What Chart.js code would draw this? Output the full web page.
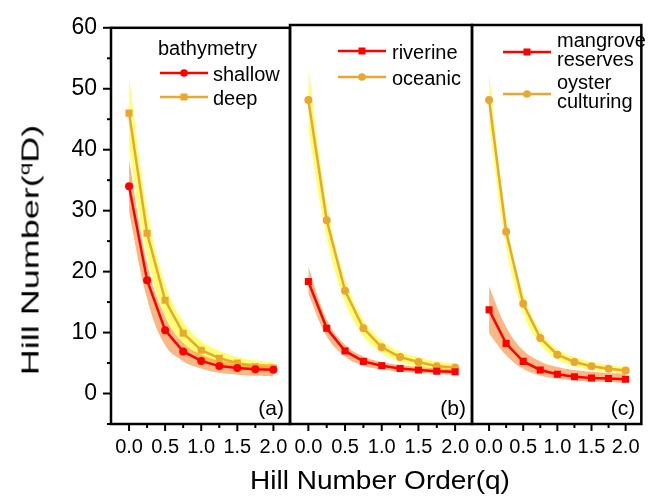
<!DOCTYPE html>
<html lang="en">
<head>
  <meta charset="UTF-8">
  <title>Hill Numbers</title>
  <script src="https://cdn.jsdelivr.net/npm/chart.js"></script>
  <style>
    body { margin: 0; background: #fff; font-family: "Liberation Sans", Arial, sans-serif; }
    #wrap { position: relative; width: 651px; height: 496px; overflow: hidden; }
    #wrap canvas { position: absolute; left: 0; top: 0; }
    .ytitle { position: absolute; left: 30px; top: 250px; font-size: 24px; line-height: 25px; white-space: nowrap;
              transform: translate(-50%, -50%) rotate(-90deg) scaleX(1.5); }
    .ytitle sup { font-size: 15px; vertical-align: 9px; line-height: 0; }
    .xtitle { position: absolute; left: 380px; top: 467px; font-size: 25px; line-height: 26px; white-space: nowrap;
              transform: translateX(-50%) scaleX(1.12); }
  </style>
</head>
<body>
<div id="wrap">
  <canvas id="panelA" width="651" height="496"></canvas>
  <canvas id="panelB" width="651" height="496"></canvas>
  <canvas id="panelC" width="651" height="496"></canvas>
  <div class="ytitle">Hill Number(<sup>q</sup>D)</div>
  <div class="xtitle">Hill Number Order(q)</div>
</div>

<script>
  // Hill number order q
  const qOrder = [0, 0.25, 0.5, 0.75, 1, 1.25, 1.5, 1.75, 2];

  // (a) bathymetry
  const shallow   = [34.0, 18.6, 10.4, 6.9, 5.35, 4.5, 4.2, 4.0, 3.9];
  const shallowHi = [38.4, 21.4, 12.6, 8.3, 6.4, 5.4, 5.1, 4.9, 4.8];
  const shallowLo = [29.8, 15.6, 7.9, 5.3, 4.1, 3.4, 3.1, 2.9, 2.8];
  const deep      = [46.0, 26.3, 15.3, 9.9, 7.1, 5.8, 5.0, 4.4, 4.2];
  const deepHi    = [51.8, 30.2, 17.9, 11.8, 8.6, 7.0, 6.0, 5.4, 5.1];
  const deepLo    = [40.2, 22.6, 12.8, 8.2, 5.8, 4.7, 4.1, 3.6, 3.4];

  // (b) riverine / oceanic
  const riverine   = [18.2, 10.6, 6.9, 5.2, 4.5, 4.05, 3.8, 3.6, 3.5];
  const riverineHi = [20.6, 12.0, 7.9, 6.0, 5.1, 4.6, 4.3, 4.1, 4.0];
  const riverineLo = [16.2, 9.3, 6.0, 4.5, 3.9, 3.5, 3.3, 3.1, 3.0];
  const oceanic    = [47.8, 28.2, 16.7, 10.6, 7.5, 5.9, 5.1, 4.4, 4.2];
  const oceanicHi  = [53.0, 31.0, 18.6, 12.0, 8.6, 6.8, 5.9, 5.2, 4.9];
  const oceanicLo  = [42.8, 25.5, 14.9, 9.3, 6.6, 5.1, 4.4, 3.8, 3.6];

  // (c) mangrove reserves / oyster culturing
  const mangrove   = [13.6, 8.1, 5.2, 3.8, 3.1, 2.7, 2.5, 2.4, 2.3];
  const mangroveHi = [17.4, 10.8, 7.0, 5.2, 4.3, 3.8, 3.5, 3.3, 3.2];
  const mangroveLo = [9.8, 6.2, 4.0, 2.9, 2.4, 2.1, 1.9, 1.8, 1.7];
  const oyster     = [47.8, 26.3, 14.6, 9.0, 6.3, 5.1, 4.4, 4.0, 3.7];
  const oysterHi   = [52.0, 28.8, 16.3, 10.2, 7.2, 5.9, 5.1, 4.6, 4.3];
  const oysterLo   = [43.8, 24.0, 13.1, 8.0, 5.5, 4.4, 3.8, 3.5, 3.2];

  // axis ticks
  const yMajorTicks = [0, 10, 20, 30, 40, 50, 60];
  const xMajorTicks = [0, 0.5, 1, 1.5, 2];

  const FONT = '"Liberation Sans", Arial, sans-serif';
  const RED = '#FF0000';
  const GOLD = '#E8A830';
  const ORANGE_BAND = 'rgba(243,135,50,0.6)';
  const YELLOW_BAND = 'rgba(255,255,0,0.55)';

  Chart.defaults.font.family = FONT;
  Chart.defaults.color = '#000';

  const pts = arr => arr.map((v, i) => ({ x: qOrder[i], y: v }));
  const near = (a, b) => Math.abs(a - b) < 1e-6;

  function lineSet(label, arr, color, style, order) {
    return {
      label, data: pts(arr), borderColor: color, backgroundColor: color,
      borderWidth: 2.5, pointStyle: style, pointRadius: style === 'rect' ? 5 : 4,
      pointBorderWidth: 0, fill: false, tension: 0, order
    };
  }
  function bandSet(arr, color, order, fill) {
    return {
      label: '', data: pts(arr), borderWidth: 0, borderColor: 'rgba(0,0,0,0)',
      backgroundColor: color, pointRadius: 0, fill, tension: 0.4, order
    };
  }

  // frame, tick marks, panel tag and in-plot legend
  const panelDeco = {
    id: 'panelDeco',
    afterDatasetsDraw(chart, args, o) {
      const { ctx, chartArea: a, scales: { x, y } } = chart;
      ctx.save();
      ctx.strokeStyle = '#000';
      ctx.lineCap = 'butt';

      ctx.lineWidth = 2;
      x.ticks.forEach(t => {
        const k = t.value / 0.25;
        if (!near(k, Math.round(k))) return;
        const px = x.getPixelForValue(t.value);
        if (px < a.left + 3 || px > a.right - 3) return;
        const len = xMajorTicks.some(m => near(m, t.value)) ? 7 : 4;
        ctx.beginPath(); ctx.moveTo(px, a.bottom); ctx.lineTo(px, a.bottom + len); ctx.stroke();
      });
      if (o.yTicks) {
        y.ticks.forEach(t => {
          const py = y.getPixelForValue(t.value);
          const len = yMajorTicks.includes(t.value) ? 8 : 4;
          ctx.beginPath(); ctx.moveTo(a.left, py); ctx.lineTo(a.left - len, py); ctx.stroke();
        });
      }

      ctx.lineWidth = 2.5;
      ctx.strokeRect(a.left, a.top, a.right - a.left, a.bottom - a.top);

      ctx.fillStyle = '#000';
      ctx.font = '21px ' + FONT;
      ctx.textAlign = 'right';
      ctx.textBaseline = 'alphabetic';
      ctx.fillText(o.tag, a.right - 6, a.bottom - 9);

      // legend
      const lg = o.legend;
      ctx.font = '20px ' + FONT;
      ctx.textAlign = 'left';
      if (lg.title) ctx.fillText(lg.title, lg.titleX, lg.titleY);
      lg.rows.forEach(r => {
        const ds = chart.data.datasets[r.ds];
        const x0 = lg.lineX, x1 = lg.lineX + 48, mid = (x0 + x1) / 2;
        ctx.strokeStyle = ds.borderColor;
        ctx.fillStyle = ds.borderColor;
        ctx.lineWidth = 2.5;
        ctx.beginPath(); ctx.moveTo(x0, r.y); ctx.lineTo(x1, r.y); ctx.stroke();
        if (ds.pointStyle === 'rect') {
          ctx.fillRect(mid - 3.5, r.y - 3.5, 7, 7);
        } else {
          ctx.beginPath(); ctx.arc(mid, r.y, 3.8, 0, Math.PI * 2); ctx.fill();
        }
        ctx.fillStyle = '#000';
        const lines = ds.label.split('\n');
        if (lines.length === 1) {
          ctx.fillText(lines[0], lg.textX, r.y + 7.5);
        } else {
          ctx.fillText(lines[0], lg.textX, r.y - 5);
          ctx.fillText(lines[1], lg.textX, r.y + 14);
        }
      });
      ctx.restore();
    }
  };

  function makePanel(id, cfg) {
    new Chart(document.getElementById(id), {
      type: 'line',
      data: { datasets: cfg.datasets },
      options: {
        responsive: false,
        animation: false,
        events: [],
        layout: { padding: { left: cfg.left, right: cfg.right, top: 25, bottom: 32 } },
        scales: {
          x: {
            type: 'linear', min: -0.25, max: 2.23,
            grid: { display: false, drawTicks: false },
            border: { display: false },
            afterFit: s => { s.height = 40; },
            ticks: {
              stepSize: 0.25, autoSkip: false, includeBounds: false, maxRotation: 0, padding: 11,
              font: { size: 20 },
              callback: v => xMajorTicks.some(m => near(m, v)) ? v.toFixed(1) : ''
            }
          },
          y: {
            min: -5, max: 60,
            display: cfg.showY,
            grid: { display: false, drawTicks: false },
            border: { display: false },
            afterFit: s => { s.width = cfg.showY ? 60 : 0; },
            ticks: {
              stepSize: 5, autoSkip: false, padding: 14, font: { size: 23 },
              callback: v => yMajorTicks.includes(v) ? String(v) : ''
            }
          }
        },
        plugins: {
          legend: { display: false },
          tooltip: { enabled: false },
          panelDeco: { tag: cfg.tag, yTicks: cfg.showY, legend: cfg.legend }
        }
      },
      plugins: [panelDeco]
    });
  }

  makePanel('panelA', {
    left: 51, right: 361, showY: true, tag: '(a)',
    legend: { title: 'bathymetry', titleX: 158, titleY: 55, lineX: 160, textX: 213,
              rows: [{ ds: 0, y: 73 }, { ds: 1, y: 97 }] },
    datasets: [
      lineSet('shallow', shallow, RED, 'circle', 0),
      lineSet('deep', deep, GOLD, 'rect', 1),
      bandSet(shallowHi, ORANGE_BAND, 3, '+1'),
      bandSet(shallowLo, ORANGE_BAND, 3, false),
      bandSet(deepHi, YELLOW_BAND, 4, '+1'),
      bandSet(deepLo, YELLOW_BAND, 4, false)
    ]
  });

  makePanel('panelB', {
    left: 290, right: 179, showY: false, tag: '(b)',
    legend: { lineX: 338, textX: 392, rows: [{ ds: 0, y: 51 }, { ds: 1, y: 77 }] },
    datasets: [
      lineSet('riverine', riverine, RED, 'rect', 0),
      lineSet('oceanic', oceanic, GOLD, 'circle', 1),
      bandSet(riverineHi, ORANGE_BAND, 3, '+1'),
      bandSet(riverineLo, ORANGE_BAND, 3, false),
      bandSet(oceanicHi, YELLOW_BAND, 4, '+1'),
      bandSet(oceanicLo, YELLOW_BAND, 4, false)
    ]
  });

  makePanel('panelC', {
    left: 472, right: 1, showY: false, tag: '(c)',
    legend: { lineX: 503, textX: 557, rows: [{ ds: 0, y: 52 }, { ds: 1, y: 94 }] },
    datasets: [
      lineSet('mangrove\nreserves', mangrove, RED, 'rect', 0),
      lineSet('oyster\nculturing', oyster, GOLD, 'circle', 1),
      bandSet(mangroveHi, ORANGE_BAND, 3, '+1'),
      bandSet(mangroveLo, ORANGE_BAND, 3, false),
      bandSet(oysterHi, YELLOW_BAND, 4, '+1'),
      bandSet(oysterLo, YELLOW_BAND, 4, false)
    ]
  });
</script>
</body>
</html>
